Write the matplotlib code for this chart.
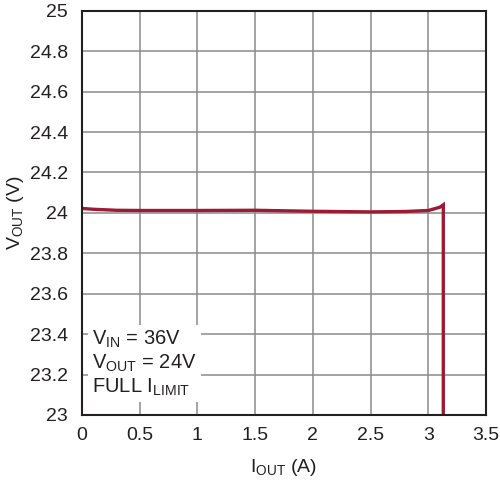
import matplotlib
matplotlib.use("Agg")
import matplotlib.pyplot as plt
import numpy as np

plt.rcParams['font.family'] = ['Liberation Sans', 'DejaVu Sans']
plt.rcParams['mathtext.fontset'] = 'custom'
plt.rcParams['mathtext.rm'] = 'Liberation Sans'
plt.rcParams['mathtext.it'] = 'Liberation Sans'

# output current (A) vs output voltage (V)
i_out = [0, 0.1, 0.3, 0.5, 1.0, 1.5, 2.0, 2.5, 2.8, 3.0, 3.05, 3.1, 3.13, 3.13]
v_out = [24.022, 24.018, 24.013, 24.012, 24.012, 24.013, 24.008, 24.005,
         24.007, 24.012, 24.02, 24.028, 24.04, 23.0]

xticks = [0, 0.5, 1, 1.5, 2, 2.5, 3, 3.5]
yticks = [23, 23.2, 23.4, 23.6, 23.8, 24, 24.2, 24.4, 24.6, 24.8, 25]

fig = plt.figure(figsize=(5, 4.84), dpi=100)
ax = fig.add_axes([0.164, 0.1426, 0.808, 0.835])

ax.plot(i_out, v_out, color='#9c1a33', lw=2.4, solid_joinstyle='miter')

ax.set_xlim(0, 3.5)
ax.set_ylim(23, 25)
ax.set_xticks(xticks)
ax.set_xticklabels(['0', '0.5', '1', '1.5', '2', '2.5', '3', '3.5'])
ax.set_yticks(yticks)
ax.set_yticklabels(['23', '23.2', '23.4', '23.6', '23.8', '24', '24.2', '24.4', '24.6', '24.8', '25'])
ax.grid(True, color='#8a8a8a', lw=1.1)
ax.set_axisbelow(True)
ax.tick_params(length=0, labelsize=14, colors='#231f20')
ax.tick_params(axis='x', pad=9)
ax.tick_params(axis='y', pad=10)
for s in ax.spines.values():
    s.set_color('#231f20')
    s.set_linewidth(1.5)

ax.set_xlabel(r'I$_{\mathrm{OUT}}$ (A)', fontsize=14, color='#231f20', labelpad=9)
ax.set_ylabel(r'V$_{\mathrm{OUT}}$ (V)', fontsize=14, color='#231f20', labelpad=3)

ax.text(0.09, 23.085,
        'V$_{\\mathrm{IN}}$ = 36V\nV$_{\\mathrm{OUT}}$ = 24V\nFULL I$_{\\mathrm{LIMIT}}$',
        fontsize=14.5, color='#231f20', linespacing=1.15, va='bottom', ha='left',
        bbox=dict(facecolor='white', edgecolor='none', pad=3))

fig.savefig('out.png', dpi=100)
